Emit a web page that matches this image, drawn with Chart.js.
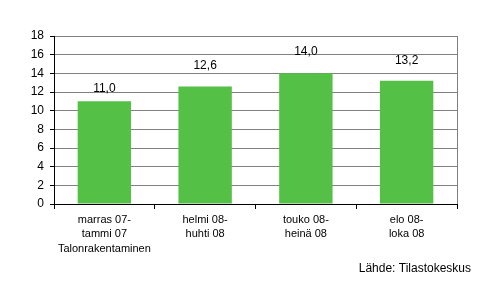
<!DOCTYPE html>
<html>
<head>
<meta charset="utf-8">
<script src="https://cdn.jsdelivr.net/npm/chart.js@4"></script>
<style>
  html, body { margin: 0; padding: 0; background: #fff; }
  #wrap { position: relative; width: 497px; height: 288px; }
</style>
</head>
<body>
<div id="wrap"><canvas id="chart" width="497" height="288"></canvas></div>
<script>
// Data
const categories = [
    ['marras 07-', 'tammi 07', 'Talonrakentaminen'],
    ['helmi 08-', 'huhti 08'],
    ['touko 08-', 'heinä 08'],
    ['elo 08-', 'loka 08']
];
const values = [11.0, 12.6, 14.0, 13.2];
const yTicks = [0, 2, 4, 6, 8, 10, 12, 14, 16, 18];
const sourceText = 'Lähde: Tilastokeskus';

const FONT = "'Liberation Sans', Arial, sans-serif";

// value labels above bars + right border + source note
const extras = {
    id: 'extras',
    afterDatasetsDraw(chart, args, opts) {
        const ctx = chart.ctx;
        const area = chart.chartArea;
        ctx.save();
        // right border of plot area
        ctx.strokeStyle = '#808080';
        ctx.lineWidth = 1;
        ctx.beginPath();
        ctx.moveTo(Math.round(area.right) + 0.5, area.top);
        ctx.lineTo(Math.round(area.right) + 0.5, area.bottom);
        ctx.stroke();

        ctx.fillStyle = '#000';
        ctx.font = '12px ' + FONT;
        ctx.textAlign = 'center';
        ctx.textBaseline = 'alphabetic';
        chart.getDatasetMeta(0).data.forEach((bar, i) => {
            const txt = values[i].toFixed(1).replace('.', ',');
            ctx.fillText(txt, bar.x, bar.y - opts.offsets[i]);
        });

        ctx.textAlign = 'right';
        ctx.textBaseline = 'middle';
        ctx.fillText(sourceText, 471, 269);
        ctx.restore();
    }
};

const chart = new Chart(document.getElementById('chart'), {
    type: 'bar',
    data: {
        labels: categories,
        datasets: [{
            data: values,
            backgroundColor: '#55c046',
            borderWidth: 0,
            categoryPercentage: 1,
            barPercentage: 0.53
        }]
    },
    options: {
        responsive: false,
        animation: false,
        layout: { padding: { top: 36, right: 40, left: 0, bottom: 0 } },
        plugins: {
            legend: { display: false },
            tooltip: { enabled: false },
            extras: { offsets: [9, 17, 18, 17] }
        },
        scales: {
            x: {
                afterFit(scale) { scale.height = 84; },
                grid: {
                    offset: true,
                    drawOnChartArea: false,
                    drawTicks: true,
                    tickLength: 5,
                    color: '#000'
                },
                border: { color: '#000', width: 1 },
                ticks: {
                    color: '#000',
                    font: { family: FONT, size: 11, lineHeight: 1.36 },
                    padding: 3,
                    maxRotation: 0,
                    autoSkip: false
                }
            },
            y: {
                min: 0,
                max: 18,
                afterFit(scale) { scale.width = 54; },
                afterBuildTicks(scale) {
                    scale.ticks = yTicks.map(v => ({ value: v }));
                },
                grid: {
                    color: '#808080',
                    tickColor: '#000',
                    tickLength: 4,
                    drawTicks: true
                },
                border: { color: '#000', width: 1 },
                ticks: {
                    color: '#000',
                    font: { family: FONT, size: 12 },
                    padding: 6
                }
            }
        }
    },
    plugins: [extras]
});
</script>
</body>
</html>
